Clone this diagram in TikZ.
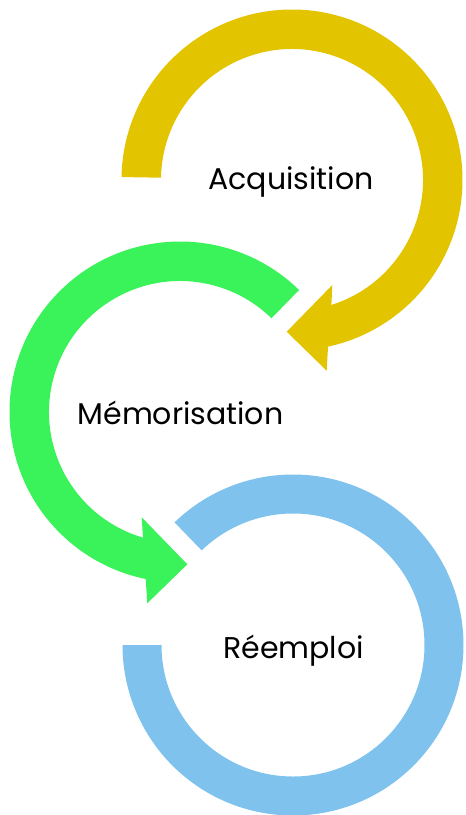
\documentclass[tikz,border=0pt]{standalone}
\usepackage{fontspec}
\setmainfont{Poppins}
\usepackage{tikz}
\definecolor{acqyellow}{RGB}{227,196,0}
\definecolor{memgreen}{RGB}{58,242,90}
\definecolor{reublue}{RGB}{126,194,237}
\tikzstyle{stage} = [font=\fontsize{30}{36}\selectfont, text=black, inner sep=0pt, anchor=base]

\begin{document}
\begin{tikzpicture}[x=1pt,y=1pt]
    % frame of the picture
    \useasboundingbox (0,0) rectangle (466,-815);
    % First the centres of the three rings
    \coordinate (cA) at (292,-180);
    \coordinate (cM) at (180,-412);
    \coordinate (cR) at (293,-645);

    % yellow arrow, clockwise, head pointing left
    \fill[acqyellow, shift={(cA)}] (179:170.5) arc[start angle=179, end angle=-77.8, radius=170.5]
        -- (34.7,-190.7) -- (-5.3,-151.7) -- (40.3,-105)
        -- (-72.5:131) arc[start angle=-72.5, end angle=179, radius=131] -- cycle;
    % green arrow, counter clockwise, head pointing right
    \fill[memgreen, shift={(cM)}] (45.7:170.5) arc[start angle=45.7, end angle=258.4, radius=170.5]
        -- (-32.7,-191.3) -- (7.3,-152.3) -- (-38.3,-105.3)
        -- (253.6:131) arc[start angle=253.6, end angle=45.7, radius=131] -- cycle;
    % blue ring, no head
    \fill[reublue, shift={(cR)}] (134:170.5) arc[start angle=134, end angle=-180, radius=170.5]
        -- (-180:131.5) arc[start angle=-180, end angle=134, radius=131.5] -- cycle;

    % Then the labels
    \foreach \pos/\name/\txt in {{(291,-189)/acq/Acquisition}, {(180.5,-424)/mem/Mémorisation}, {(293.5,-658)/reu/Réemploi}}
        \node[stage] (\name) at \pos {\txt};
\end{tikzpicture}
\end{document}
